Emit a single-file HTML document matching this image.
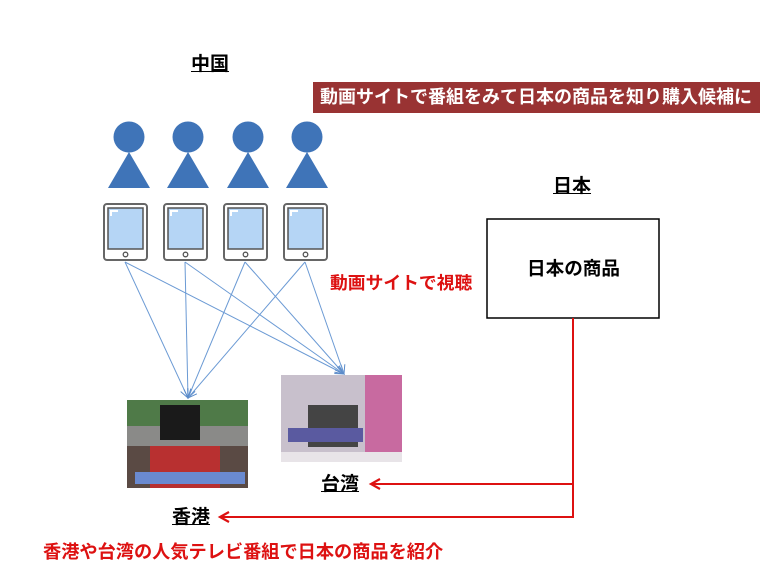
<!DOCTYPE html>
<html><head><meta charset="utf-8"><style>
body{margin:0;background:#fff;width:782px;height:587px;overflow:hidden;position:relative;font-family:"Liberation Sans","Noto Sans CJK JP",sans-serif;font-weight:bold}
.t{position:absolute;white-space:nowrap;line-height:1}
.u{text-decoration:underline}
</style></head><body>
<svg width="782" height="587" style="position:absolute;left:0;top:0">
<defs>
<marker id="ab" markerWidth="10" markerHeight="10" refX="9" refY="5" orient="auto" markerUnits="userSpaceOnUse"><path d="M0,1 L9,5 L0,9" fill="none" stroke="#5b8bc9" stroke-width="1"/></marker>
<marker id="ar" markerWidth="14" markerHeight="14" refX="10" refY="7" orient="auto" markerUnits="userSpaceOnUse"><path d="M1,2 L10,7 L1,12" fill="none" stroke="#d11" stroke-width="2.2"/></marker>
<g id="p"><circle cx="0" cy="0" r="15.5" fill="#3f74b8"/><path d="M0,15 L21,51 L-21,51 Z" fill="#3f74b8"/></g>
<g id="tb"><rect x="0" y="0" width="43" height="56" rx="3" fill="#fff" stroke="#666" stroke-width="2"/><rect x="4" y="4" width="35" height="41" fill="#b5d5f5" stroke="#555" stroke-width="1.5"/><path d="M7,12 V7 H14" stroke="#fff" stroke-width="2" fill="none"/><circle cx="21.5" cy="50.5" r="2.3" fill="none" stroke="#555" stroke-width="1.3"/></g>
</defs>
<use href="#p" x="129" y="137"/><use href="#p" x="188" y="137"/><use href="#p" x="248" y="137"/><use href="#p" x="307" y="137"/>
<use href="#tb" x="104" y="204"/><use href="#tb" x="164" y="204"/><use href="#tb" x="224" y="204"/><use href="#tb" x="284" y="204"/>
<g stroke="#6b9ad4" stroke-width="1" marker-end="url(#ab)">
<line x1="125" y1="262" x2="188" y2="398"/><line x1="185" y1="262" x2="188" y2="398"/><line x1="245" y1="262" x2="188" y2="398"/><line x1="305" y1="262" x2="188" y2="398"/>
<line x1="125" y1="262" x2="344" y2="374"/><line x1="185" y1="262" x2="344" y2="374"/><line x1="245" y1="262" x2="344" y2="374"/><line x1="305" y1="262" x2="344" y2="374"/>
</g>
<rect x="313" y="82" width="447" height="31" fill="#993333"/>
<rect x="487" y="219" width="172" height="99" fill="#fff" stroke="#000" stroke-width="1.5"/>
<polyline points="573,318 573,517 220,517" fill="none" stroke="#d11" stroke-width="2" marker-end="url(#ar)"/>
<line x1="573" y1="484" x2="371" y2="484" stroke="#d11" stroke-width="2" marker-end="url(#ar)"/>
<rect x="127" y="400" width="121" height="88" fill="#5a4a44"/>
<rect x="127" y="400" width="121" height="26" fill="#4f7a48"/>
<rect x="127" y="426" width="121" height="20" fill="#8a8a88"/>
<rect x="150" y="446" width="70" height="42" fill="#b83030"/>
<rect x="160" y="405" width="40" height="35" fill="#1a1a1a"/>
<rect x="135" y="472" width="110" height="12" fill="#6a8ad0"/>
<rect x="281" y="375" width="121" height="87" fill="#c8c0cc"/>
<rect x="365" y="375" width="37" height="80" fill="#c86aa0"/>
<rect x="308" y="405" width="50" height="42" fill="#444"/>
<rect x="288" y="428" width="75" height="14" fill="#5a5aa0"/>
<rect x="281" y="452" width="121" height="10" fill="#e8e4e8"/>
</svg>
<div class="t u" style="left:191px;top:55px;font-size:19px">中国</div>
<div class="t" style="left:320px;top:88px;font-size:18px;color:#fff">動画サイトで番組をみて日本の商品を知り購入候補に</div>
<div class="t u" style="left:553px;top:177px;font-size:19px">日本</div>
<div class="t" style="left:527px;top:260px;font-size:18.6px">日本の商品</div>
<div class="t" style="left:330px;top:275px;font-size:17.8px;color:#d11">動画サイトで視聴</div>
<div class="t u" style="left:321px;top:475px;font-size:19px">台湾</div>
<div class="t u" style="left:172px;top:508px;font-size:19px">香港</div>
<div class="t" style="left:43px;top:543px;font-size:18.2px;color:#d11">香港や台湾の人気テレビ番組で日本の商品を紹介</div>
</body></html>
